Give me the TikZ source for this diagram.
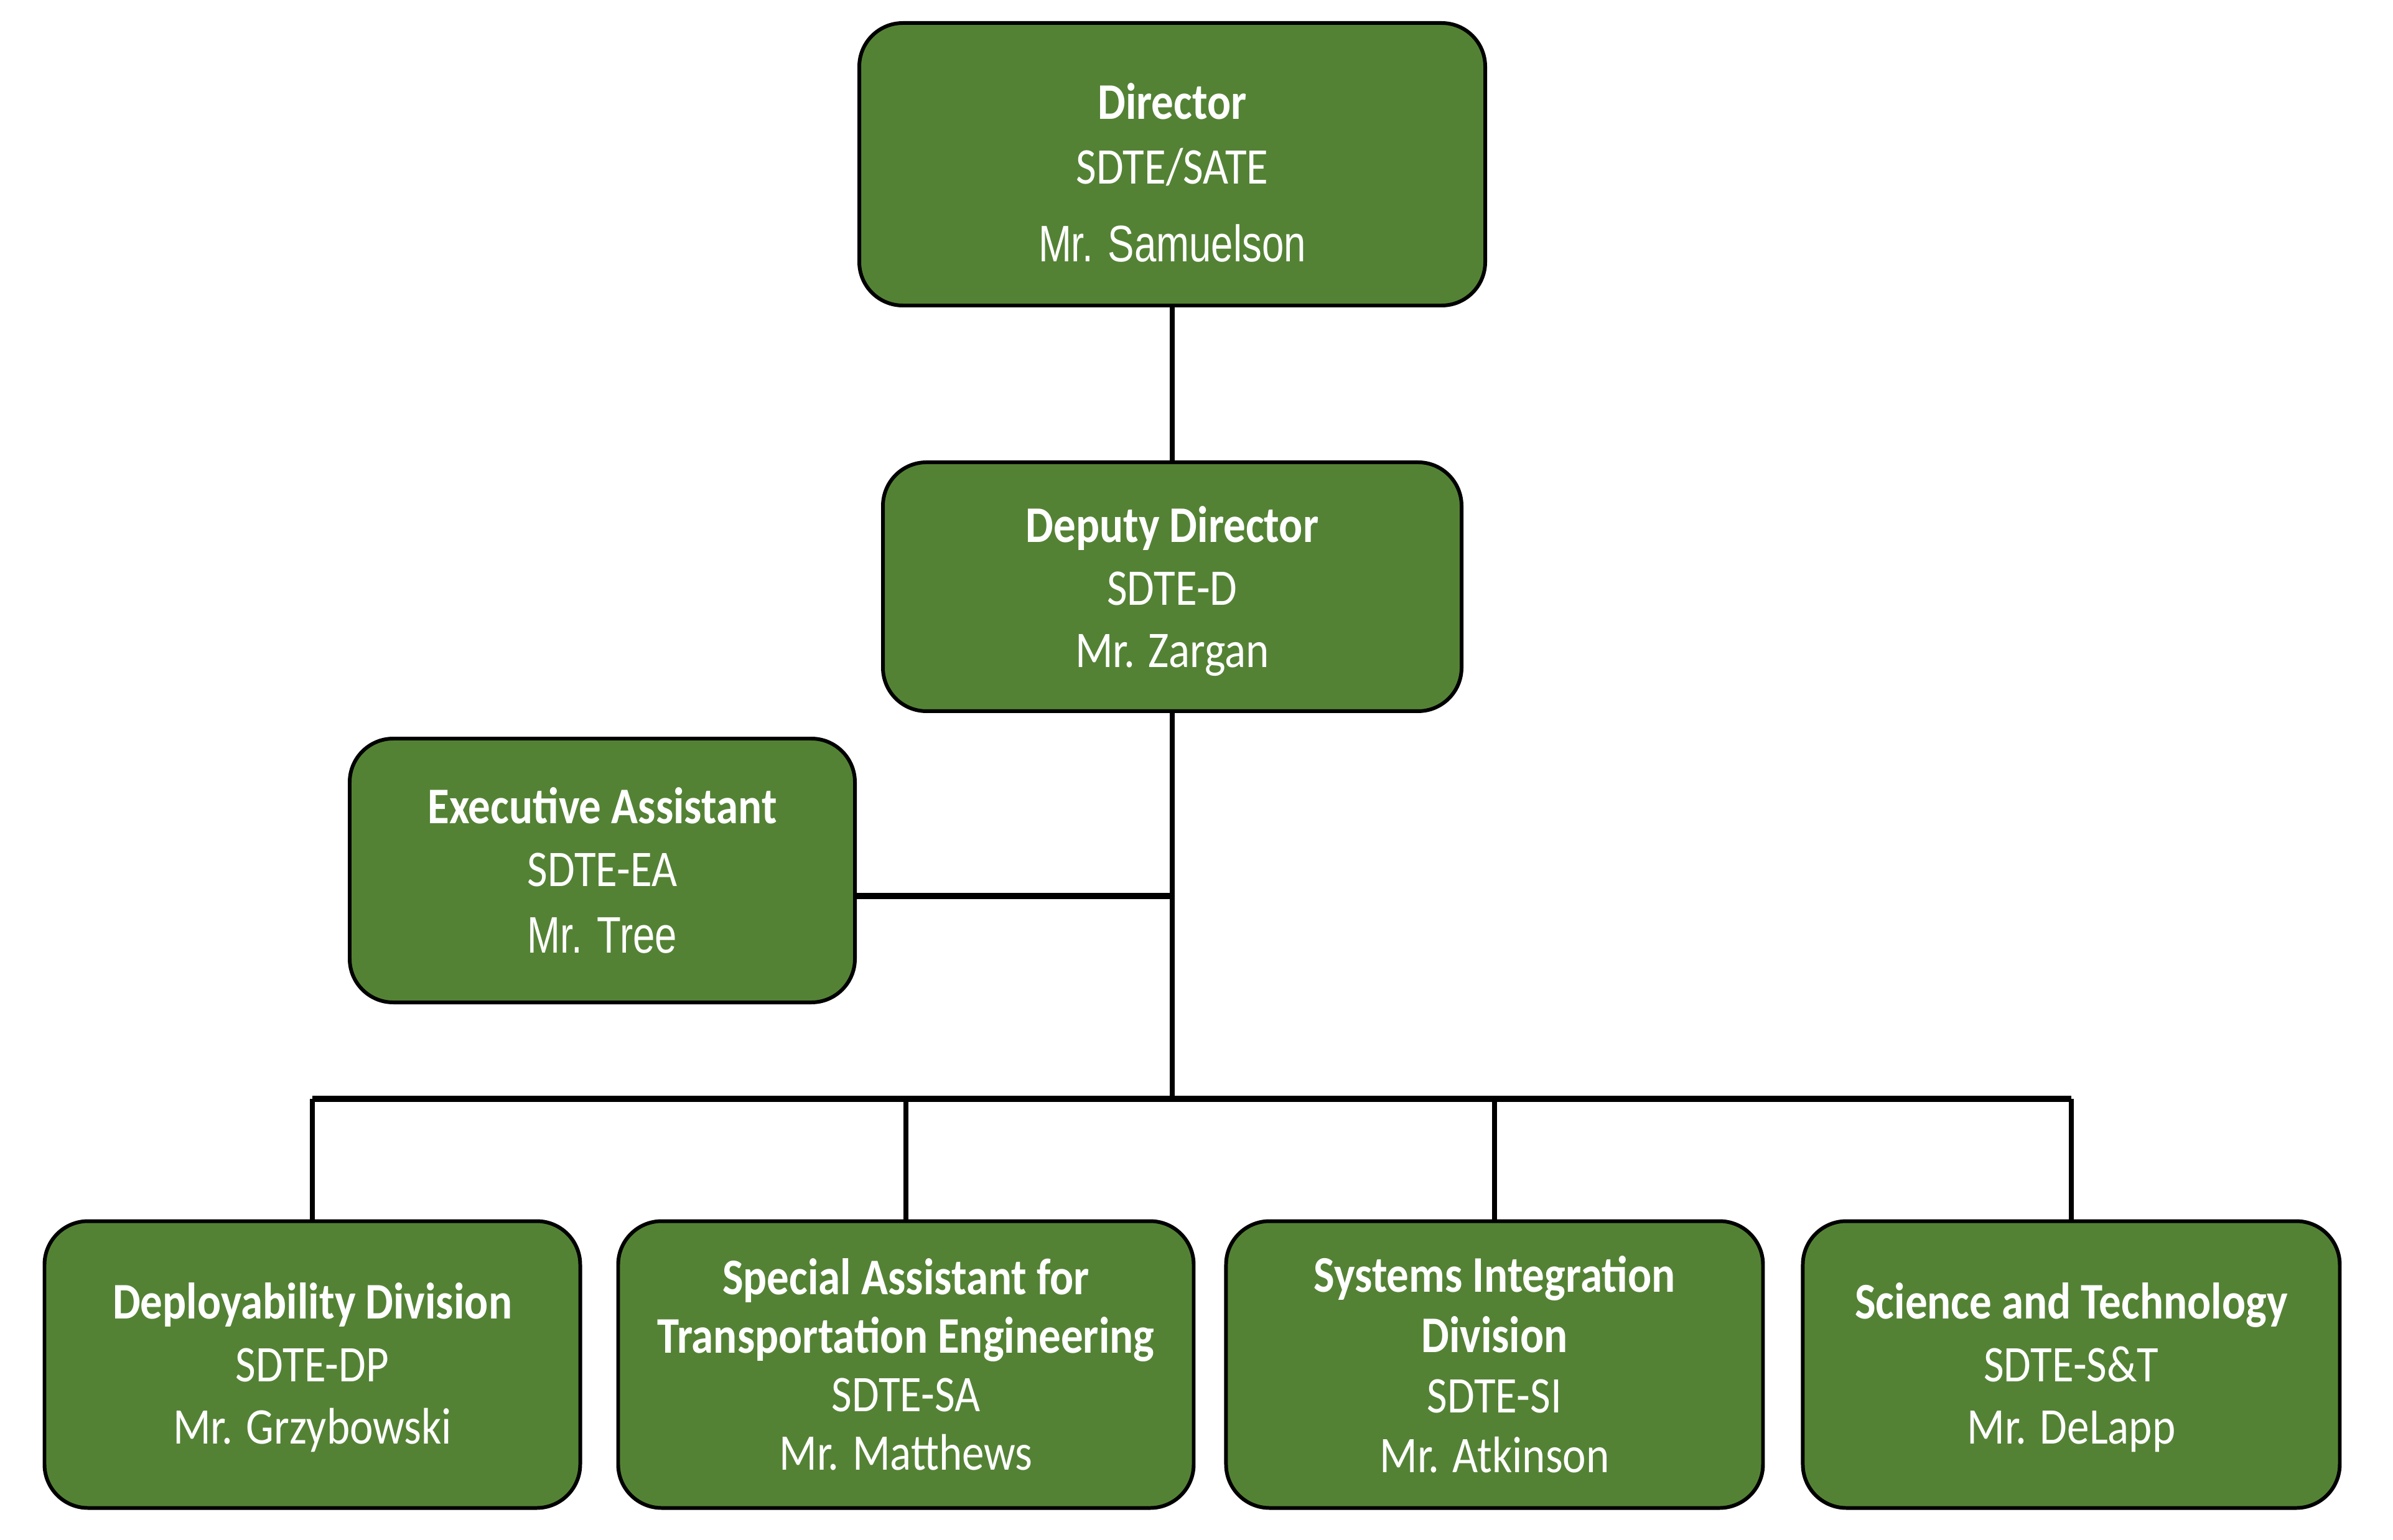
\documentclass[tikz,border=0pt]{standalone}
\usepackage{fontspec}
\setmainfont{Carlito}[FakeStretch=0.86]
\newfontfamily\arialfont{Liberation Sans}[FakeStretch=0.77]
\usetikzlibrary{positioning}
\definecolor{orggreen}{RGB}{84,130,53}
\newcommand{\lowertext}[2]{\raisebox{-#1}[\height][\depth]{\begin{tabular}{@{}c@{}}#2\end{tabular}}}

\begin{document}
\begin{tikzpicture}[
    unit/.style={rectangle, draw=black, line width=1.7pt, fill=orggreen, text=white, align=center, rounded corners=0.7cm, inner sep=0pt, font=\fontsize{23.5}{28.5}\selectfont},
    link/.style={line width=2.5pt},
    bus/.style={line width=3pt}
]
\useasboundingbox (0,0) rectangle (38.46,-24.75);

\node[unit, minimum width=10.06cm, minimum height=4.54cm] (dir) at (18.84,-2.64) {\lowertext{0.22cm}{\textbf{Director}\\[1pt] SDTE/SATE\\[7pt] {\arialfont Mr. Samuelson}}};
\node[unit, minimum width=9.30cm, minimum height=4.00cm, below=2.46cm of dir] (dep) {\lowertext{0.09cm}{\textbf{Deputy Director}\\ SDTE-D\\ Mr. Zargan}};
\node[unit, minimum width=8.12cm, minimum height=4.24cm] (ea) at (9.68,-13.99) {\textbf{Executive Assistant}\\ SDTE-EA\\[2pt] {\arialfont Mr. Tree}};

\node[unit, minimum width=8.61cm, minimum height=4.61cm] (dp) at (5.02,-21.93) {\lowertext{0.07cm}{\textbf{Deployability Division}\\ SDTE-DP\\ Mr. Grzybowski}};
\node[unit, minimum width=9.25cm, minimum height=4.61cm, right=0.55cm of dp, font=\fontsize{23.5}{26.8}\selectfont] (sa) {\textbf{Special Assistant for}\\ \textbf{Transportation Engineering}\\ SDTE-SA\\ Mr. Matthews};
\node[unit, minimum width=8.63cm, minimum height=4.61cm, right=0.46cm of sa, font=\fontsize{23.5}{27.5}\selectfont] (si) {\textbf{Systems Integration}\\ \textbf{Division}\\ SDTE-SI\\ Mr. Atkinson};
\node[unit, minimum width=8.63cm, minimum height=4.61cm, right=0.58cm of si] (st) {\lowertext{0.07cm}{\textbf{Science and Technology}\\ SDTE-S\&T\\ Mr. DeLapp}};

\coordinate (hub) at (dep.south |- 0,-17.66);
\coordinate (eaj) at (dep.south |- 0,-14.40);

\draw[link] (dir) -- (dep);
\draw[link] (dep) -- (hub);
\draw[bus] (eaj -| ea.east) -- (eaj);
\draw[bus] (dp.north |- hub) -- (st.north |- hub);
\draw[link] (dp.north |- hub) -- (dp);
\draw[link] (sa.north |- hub) -- (sa);
\draw[link] (si.north |- hub) -- (si);
\draw[link] (st.north |- hub) -- (st);
\end{tikzpicture}
\end{document}
